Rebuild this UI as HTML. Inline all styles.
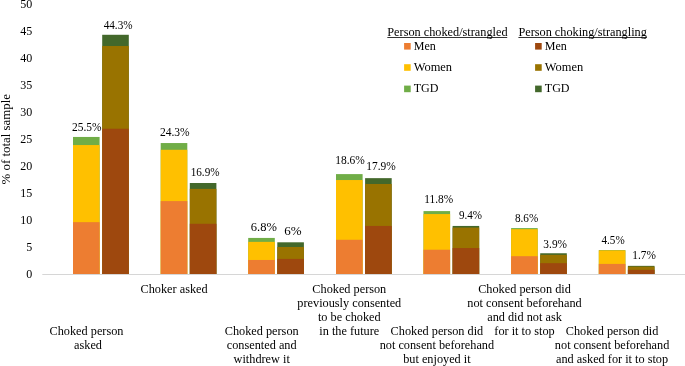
<!DOCTYPE html>
<html><head><meta charset="utf-8"><title>chart</title>
<style>html,body{margin:0;padding:0;background:#fff}svg{display:block;will-change:transform}text{font-family:"Liberation Serif",serif;fill:#000}</style></head><body>
<svg width="685" height="366" viewBox="0 0 685 366">
<rect x="73.0" y="136.95" width="26.6" height="137.05" fill="#70AD47"/>
<rect x="73.0" y="145.05" width="26.6" height="128.95" fill="#FFC000"/>
<rect x="73.0" y="222.16" width="26.6" height="51.84" fill="#ED7D31"/>
<rect x="102.2" y="34.78" width="26.6" height="239.22" fill="#43682B"/>
<rect x="102.2" y="46.01" width="26.6" height="227.99" fill="#997300"/>
<rect x="102.2" y="128.74" width="26.6" height="145.26" fill="#9E480E"/>
<rect x="160.7" y="143.05" width="26.6" height="130.95" fill="#70AD47"/>
<rect x="160.7" y="149.80" width="26.6" height="124.20" fill="#FFC000"/>
<rect x="160.7" y="201.10" width="26.6" height="72.90" fill="#ED7D31"/>
<rect x="189.8" y="183.01" width="26.6" height="90.99" fill="#43682B"/>
<rect x="189.8" y="188.90" width="26.6" height="85.10" fill="#997300"/>
<rect x="189.8" y="223.78" width="26.6" height="50.22" fill="#9E480E"/>
<rect x="248.2" y="237.93" width="26.6" height="36.07" fill="#70AD47"/>
<rect x="248.2" y="241.87" width="26.6" height="32.13" fill="#FFC000"/>
<rect x="248.2" y="259.96" width="26.6" height="14.04" fill="#ED7D31"/>
<rect x="277.3" y="242.30" width="26.6" height="31.70" fill="#43682B"/>
<rect x="277.3" y="247.00" width="26.6" height="27.00" fill="#997300"/>
<rect x="277.3" y="258.88" width="26.6" height="15.12" fill="#9E480E"/>
<rect x="336.0" y="174.10" width="26.6" height="99.90" fill="#70AD47"/>
<rect x="336.0" y="180.04" width="26.6" height="93.96" fill="#FFC000"/>
<rect x="336.0" y="239.76" width="26.6" height="34.24" fill="#ED7D31"/>
<rect x="365.1" y="178.15" width="26.6" height="95.85" fill="#43682B"/>
<rect x="365.1" y="183.98" width="26.6" height="90.02" fill="#997300"/>
<rect x="365.1" y="225.94" width="26.6" height="48.06" fill="#9E480E"/>
<rect x="423.5" y="211.09" width="26.6" height="62.91" fill="#70AD47"/>
<rect x="423.5" y="214.06" width="26.6" height="59.94" fill="#FFC000"/>
<rect x="423.5" y="249.70" width="26.6" height="24.30" fill="#ED7D31"/>
<rect x="452.6" y="225.94" width="26.6" height="48.06" fill="#43682B"/>
<rect x="452.6" y="227.56" width="26.6" height="46.44" fill="#997300"/>
<rect x="452.6" y="248.08" width="26.6" height="25.92" fill="#9E480E"/>
<rect x="511.1" y="228.10" width="26.6" height="45.90" fill="#70AD47"/>
<rect x="511.1" y="229.18" width="26.6" height="44.82" fill="#FFC000"/>
<rect x="511.1" y="256.18" width="26.6" height="17.82" fill="#ED7D31"/>
<rect x="540.2" y="253.26" width="26.6" height="20.74" fill="#43682B"/>
<rect x="540.2" y="254.83" width="26.6" height="19.17" fill="#997300"/>
<rect x="540.2" y="263.20" width="26.6" height="10.80" fill="#9E480E"/>
<rect x="598.8" y="250.08" width="26.6" height="23.92" fill="#70AD47"/>
<rect x="598.8" y="250.40" width="26.6" height="23.60" fill="#FFC000"/>
<rect x="598.8" y="263.90" width="26.6" height="10.10" fill="#ED7D31"/>
<rect x="627.9" y="265.85" width="26.6" height="8.15" fill="#43682B"/>
<rect x="627.9" y="266.60" width="26.6" height="7.40" fill="#997300"/>
<rect x="627.9" y="269.84" width="26.6" height="4.16" fill="#9E480E"/>
<rect x="42.3" y="274.0" width="642.7" height="1" fill="#D6D6D6"/>
<filter id="n" filterUnits="userSpaceOnUse" x="0" y="0" width="685" height="366"><feOffset dx="0" dy="0"/></filter>
<g filter="url(#n)">
<text transform="translate(72.06,130.80) scale(0.9957,1)" font-size="11.5">25.5%</text>
<text transform="translate(103.64,28.95) scale(0.9755,1)" font-size="11.5">44.3%</text>
<text transform="translate(159.89,135.90) scale(1.0036,1)" font-size="11.5">24.3%</text>
<text transform="translate(190.64,176.00) scale(0.9746,1)" font-size="11.5">16.9%</text>
<text transform="translate(250.83,231.40) scale(1.0204,1)" font-size="12.3">6.8%</text>
<text transform="translate(284.25,235.20) scale(1.0604,1)" font-size="12.3">6%</text>
<text transform="translate(335.28,163.90) scale(0.9979,1)" font-size="11.5">18.6%</text>
<text transform="translate(366.19,170.40) scale(0.9958,1)" font-size="11.5">17.9%</text>
<text transform="translate(424.28,202.50) scale(0.9884,1)" font-size="11.5">11.8%</text>
<text transform="translate(458.99,218.80) scale(0.9664,1)" font-size="11.5">9.4%</text>
<text transform="translate(514.91,221.50) scale(0.9754,1)" font-size="11.5">8.6%</text>
<text transform="translate(543.37,247.70) scale(0.9904,1)" font-size="11.5">3.9%</text>
<text transform="translate(601.47,244.10) scale(0.9698,1)" font-size="11.5">4.5%</text>
<text transform="translate(632.24,259.20) scale(0.9884,1)" font-size="11.5">1.7%</text>
<text x="32.3" y="278.4" font-size="12" text-anchor="end">0</text>
<text x="32.3" y="251.4" font-size="12" text-anchor="end">5</text>
<text x="32.3" y="224.4" font-size="12" text-anchor="end">10</text>
<text x="32.3" y="197.4" font-size="12" text-anchor="end">15</text>
<text x="32.3" y="170.4" font-size="12" text-anchor="end">20</text>
<text x="32.3" y="143.4" font-size="12" text-anchor="end">25</text>
<text x="32.3" y="116.4" font-size="12" text-anchor="end">30</text>
<text x="32.3" y="89.4" font-size="12" text-anchor="end">35</text>
<text x="32.3" y="62.4" font-size="12" text-anchor="end">40</text>
<text x="32.3" y="35.4" font-size="12" text-anchor="end">45</text>
<text x="32.3" y="8.4" font-size="12" text-anchor="end">50</text>
<text transform="translate(9.7,139.2) rotate(-90)" font-size="12.9" text-anchor="middle">% of total sample</text>
<text x="86.5" y="335.0" font-size="12.27" text-anchor="middle">Choked person</text>
<text x="88.0" y="348.9" font-size="12.27" text-anchor="middle">asked</text>
<text x="174.1" y="292.8" font-size="12.27" text-anchor="middle">Choker asked</text>
<text x="261.7" y="335.0" font-size="12.27" text-anchor="middle">Choked person</text>
<text x="261.7" y="348.9" font-size="12.27" text-anchor="middle">consented and</text>
<text x="261.7" y="362.8" font-size="12.27" text-anchor="middle">withdrew it</text>
<text x="349.3" y="292.8" font-size="12.27" text-anchor="middle">Choked person</text>
<text x="349.3" y="306.7" font-size="12.27" text-anchor="middle">previously consented</text>
<text x="349.3" y="320.6" font-size="12.27" text-anchor="middle">to be choked</text>
<text x="349.3" y="334.5" font-size="12.27" text-anchor="middle">in the future</text>
<text x="436.9" y="335.0" font-size="12.27" text-anchor="middle">Choked person did</text>
<text x="436.9" y="348.9" font-size="12.27" text-anchor="middle">not consent beforehand</text>
<text x="436.9" y="362.8" font-size="12.27" text-anchor="middle">but enjoyed it</text>
<text x="524.5" y="292.8" font-size="12.27" text-anchor="middle">Choked person did</text>
<text x="524.5" y="306.7" font-size="12.27" text-anchor="middle">not consent beforehand</text>
<text x="524.5" y="320.6" font-size="12.27" text-anchor="middle">and did not ask</text>
<text x="524.5" y="334.5" font-size="12.27" text-anchor="middle">for it to stop</text>
<text x="612.1" y="335.0" font-size="12.27" text-anchor="middle">Choked person did</text>
<text x="612.1" y="348.9" font-size="12.27" text-anchor="middle">not consent beforehand</text>
<text x="612.1" y="362.8" font-size="12.27" text-anchor="middle">and asked for it to stop</text>
<text x="387.3" y="35.8" font-size="12.28">Person choked/strangled</text>
<text x="518.4" y="35.8" font-size="12.28">Person choking/strangling</text>
<rect x="387.3" y="37.2" width="119.9" height="0.8" fill="#000"/>
<rect x="518.4" y="37.2" width="128.3" height="0.8" fill="#000"/>
<rect x="404.1" y="43.0" width="6.6" height="6.6" fill="#ED7D31"/>
<text x="413.7" y="50.0" font-size="12.05">Men</text>
<rect x="404.1" y="64.2" width="6.6" height="6.6" fill="#FFC000"/>
<text x="413.7" y="71.1" font-size="12.45">Women</text>
<rect x="404.1" y="85.6" width="6.6" height="6.6" fill="#70AD47"/>
<text x="413.7" y="92.2" font-size="12.05">TGD</text>
<rect x="535.1" y="43.0" width="6.6" height="6.6" fill="#9E480E"/>
<text x="544.8" y="50.0" font-size="12.05">Men</text>
<rect x="535.1" y="64.2" width="6.6" height="6.6" fill="#997300"/>
<text x="544.8" y="71.1" font-size="12.45">Women</text>
<rect x="535.1" y="85.6" width="6.6" height="6.6" fill="#43682B"/>
<text x="544.8" y="92.2" font-size="12.05">TGD</text>
</g>
</svg></body></html>
